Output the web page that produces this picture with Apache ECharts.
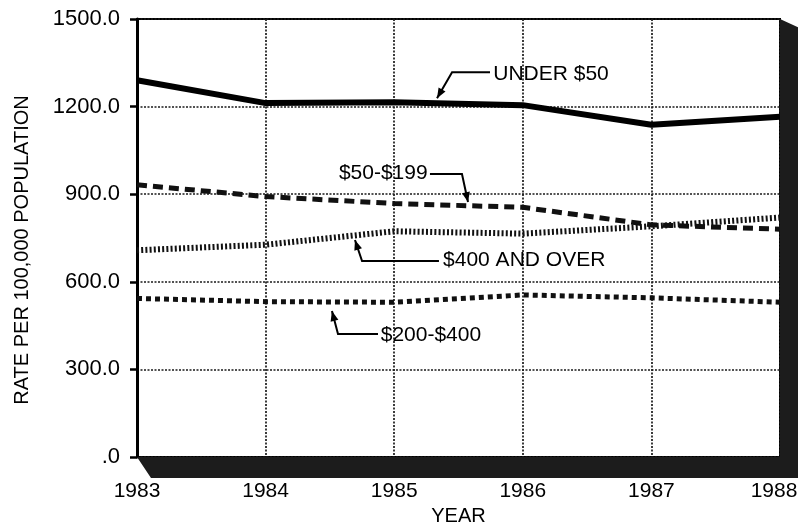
<!DOCTYPE html>
<html><head><meta charset="utf-8">
<script src="https://cdn.jsdelivr.net/npm/echarts/dist/echarts.min.js"></script>
<style>html,body{margin:0;padding:0;background:#fff}#c{width:798px;height:524px}</style>
</head><body><div id="c"></div>
<script>
// ---- data ----
const years = [1983, 1984, 1985, 1986, 1987, 1988];
const under50 = [1290, 1212, 1215, 1205, 1138, 1165];
const s50to199 = [932, 892, 868, 855, 795, 780];
const s400over = [708, 727, 773, 765, 790, 820];
const s200to400 = [543, 532, 530, 555, 545, 530];
const yTickValues = [0, 300, 600, 900, 1200, 1500];
const seriesNames = ['UNDER $50', '$50-$199', '$400 AND OVER', '$200-$400'];

// annotation anchors in data coordinates: [year, value]
const annotations = [
  {text: 'UNDER $50', tip: [1985.333, 1229], elbow: [1985.45, 1318], end: [1985.745, 1318], label: [1985.77, 1312], align: 'left'},
  {text: '$50-$199', tip: [1985.574, 873], elbow: [1985.527, 969], end: [1985.278, 969], label: [1985.26, 972], align: 'right'},
  {text: '$400 AND OVER', tip: [1984.695, 743], elbow: [1984.75, 671], end: [1985.348, 671], label: [1985.38, 674], align: 'left'},
  {text: '$200-$400', tip: [1984.516, 500], elbow: [1984.563, 421], end: [1984.874, 421], label: [1984.895, 418], align: 'left'}
];

const FONT = "'Liberation Sans', Arial, Helvetica, sans-serif";
const pairs = arr => years.map((y, i) => [y, arr[i]]);

const chart = echarts.init(document.getElementById('c'), null, {renderer: 'canvas'});
const gridLine = {show: true, lineStyle: {color: '#1a1a1a', width: 1.7, type: [2, 1.5]}};
const lastYear = years[years.length - 1];

chart.setOption({
  backgroundColor: '#fff',
  animation: false,
  grid: {left: 137, right: 18, top: 19, bottom: 67, containLabel: false, outerBoundsMode: 'none',
    show: true, borderColor: '#000', borderWidth: 2, backgroundColor: 'transparent'},
  xAxis: {
    type: 'value', min: years[0], max: lastYear, interval: 1,
    name: 'YEAR', nameLocation: 'middle', nameGap: 46,
    nameTextStyle: {fontFamily: FONT, fontSize: 20, color: '#000'},
    axisLine: {show: false}, axisTick: {show: false},
    axisLabel: {margin: 24, fontFamily: FONT, fontSize: 21, color: '#000',
      formatter: v => v === lastYear ? '{last|' + v + '}' : String(v),
      rich: {last: {fontFamily: FONT, fontSize: 21, color: '#000', padding: [0, 12, 0, 0]}}},
    splitLine: gridLine
  },
  yAxis: {
    type: 'value', min: yTickValues[0], max: yTickValues[yTickValues.length - 1], interval: 300,
    axisLine: {show: true, lineStyle: {color: '#000', width: 3}},
    axisTick: {show: true, length: 7, lineStyle: {color: '#000', width: 2.5}},
    axisLabel: {margin: 17, fontFamily: FONT, fontSize: 22, color: '#000',
      formatter: v => v === 0 ? '.0' : v.toFixed(1)},
    splitLine: gridLine
  },
  series: [
    {name: seriesNames[0], type: 'line', data: pairs(under50), symbol: 'none', z: 5,
      lineStyle: {color: '#000', width: 6, type: 'solid'}},
    {name: seriesNames[1], type: 'line', data: pairs(s50to199), symbol: 'none', z: 4,
      lineStyle: {color: '#111', width: 5, type: [10, 6], cap: 'butt'}},
    {name: seriesNames[2], type: 'line', data: pairs(s400over), symbol: 'none', z: 4,
      lineStyle: {color: '#111', width: 6, type: [2, 2.2], cap: 'butt'}},
    {name: seriesNames[3], type: 'line', data: pairs(s200to400), symbol: 'none', z: 4,
      lineStyle: {color: '#111', width: 5, type: [5, 4], cap: 'butt'}}
  ]
});

// ---- decorations computed from axes ----
const P = d => chart.convertToPixel({gridIndex: 0}, d);
const LB = P([years[0], yTickValues[0]]);
const RT = P([lastYear, yTickValues[yTickValues.length - 1]]);
const dx = 18, dy = 21;
const graphics = [];
graphics.push({
  type: 'polygon', z: 100, silent: true,
  shape: {points: [[LB[0], LB[1]], [LB[0] + dx - 4, LB[1] + dy], [RT[0] + dx + 10, LB[1] + dy], [RT[0] + dx + 10, RT[1] + dy - 8], [RT[0], RT[1]], [RT[0], LB[1]]]},
  style: {fill: '#1c1c1c'}
});
annotations.forEach(a => {
  const t = P(a.tip), e = P(a.elbow), n = P(a.end), l = P(a.label);
  graphics.push({type: 'polyline', z: 110, silent: true, shape: {points: [n, e, t]},
    style: {stroke: '#000', lineWidth: 2, fill: null}});
  let vx = t[0] - e[0], vy = t[1] - e[1];
  const len = Math.hypot(vx, vy); vx /= len; vy /= len;
  const hl = 10, hw = 4;
  const bx = t[0] - vx * hl, by = t[1] - vy * hl;
  graphics.push({type: 'polygon', z: 111, silent: true,
    shape: {points: [t, [bx - vy * hw, by + vx * hw], [bx + vy * hw, by - vx * hw]]},
    style: {fill: '#000'}});
  graphics.push({type: 'text', z: 112, silent: true, x: l[0], y: l[1],
    style: {text: a.text, fill: '#000', font: '21px ' + FONT, align: a.align, verticalAlign: 'middle'}});
});
graphics.push({type: 'text', z: 112, silent: true, x: 22, y: 250, rotation: Math.PI / 2,
  style: {text: 'RATE PER 100,000 POPULATION', fill: '#000', font: '20px ' + FONT, align: 'center', verticalAlign: 'middle'}});
chart.setOption({graphic: graphics});
</script>
</body></html>
